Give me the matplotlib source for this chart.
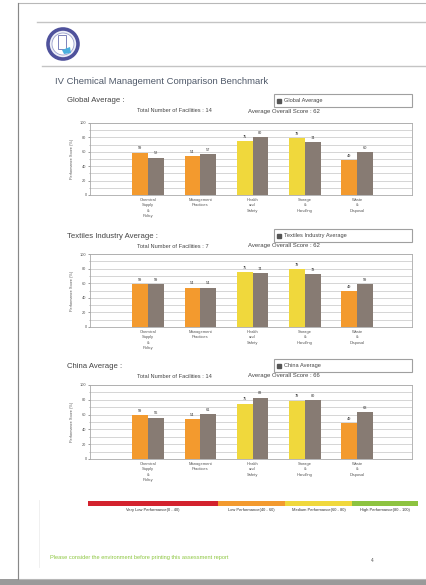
import numpy as np
import matplotlib.pyplot as plt
from matplotlib.patches import Rectangle, Circle, Polygon

plt.rcParams['font.family'] = ['Liberation Sans', 'DejaVu Sans']

# data
categories = ["Chemical\nSupply\n&\nPolicy", "Management\nPractices", "Health\nand\nSafety",
              "Storage\n&\nHandling", "Waste\n&\nDisposal"]
facility_score = [59, 54, 75, 79, 49]
global_avg = [52, 57, 80, 74, 60]
textile_avg = [59, 54, 74, 73, 59]
china_avg = [56, 61, 83, 80, 63]

chart_titles = ["Global Average :", "Textiles Industry Average :", "China Average :"]
legend_names = ["Global Average", "Textiles Industry Average", "China Average"]
n_facilities = [14, 7, 14]
overall_scores = [62, 62, 66]

band_names = ["Very Low Performance(0 - 40)", "Low Performance(40 - 60)",
              "Medium Performance(60 - 80)", "High Performance(80 - 100)"]
band_limits = [0, 40, 60, 80, 100]
band_colors = ["#d3222e", "#f39a2e", "#f0d83c", "#8dc340"]
gray_bar = "#877b73"

W, H = 427, 585
fig = plt.figure(figsize=(W / 100, H / 100), dpi=100)

bg = fig.add_axes([0, 0, 1, 1])
bg.set_xlim(0, W)
bg.set_ylim(H, 0)
bg.axis("off")

# page frame
bg.add_patch(Rectangle((0, 579), W, 6, color="#9a9a9a", lw=0))
bg.add_patch(Rectangle((18, 3), W, 576, facecolor="white", edgecolor="#b8b8b8", lw=0.8))
bg.plot([18, 18], [3, 579], color="#888888", lw=0.8)
bg.plot([37, W], [22, 22], color="#c4c4c4", lw=1.0)
bg.plot([42, W], [66, 66], color="#c4c4c4", lw=1.0)
bg.plot([39, 39], [500, 567], color="#eeeeee", lw=0.6)

# logo
bg.add_patch(Circle((63, 44), 15, facecolor="#eef0f8", edgecolor="#4f529c", lw=2.6))
bg.add_patch(Circle((63, 44), 11, facecolor="white", edgecolor="#9aa0cc", lw=0.6))
bg.add_patch(Rectangle((58, 35), 8, 14, facecolor="none", edgecolor="#7d83bb", lw=0.7))
bg.add_patch(Polygon([(62, 50), (70, 47), (71, 53), (64, 54)], color="#4ab0de", lw=0))

bg.text(55, 82, "IV Chemical Management Comparison Benchmark", fontsize=6.8,
        color="#505a6a", va="center")

# charts: (plot top px, plot bottom px, section title y px)
layout = [(123, 195, 101), (254, 327, 236), (385, 459, 366)]
averages = [global_avg, textile_avg, china_avg]

x = np.arange(len(categories))
bw = 0.3
plot_l, plot_r = 90, 412


def band_color(v):
    for i in range(len(band_colors)):
        if v < band_limits[i + 1]:
            return band_colors[i]
    return band_colors[-1]


for k in range(3):
    top, bottom, ty = layout[k]
    bg.text(67, ty, chart_titles[k], fontsize=5.6, color="#444444", va="center")
    bg.add_patch(Rectangle((274, ty - 7), 138, 13, facecolor="white", edgecolor="#a0a0a0", lw=0.8))
    bg.plot([279.5], [ty - 0.5], marker="s", ms=2.6, color="#555555")
    bg.text(284, ty - 0.5, legend_names[k], fontsize=4.1, color="#444444", va="center")
    bg.text(137, ty + 10, "Total Number of Facilities : %d" % n_facilities[k],
            fontsize=4.1, color="#444444", va="center")
    bg.text(248, ty + 10, "Average Overall Score : %d" % overall_scores[k],
            fontsize=4.3, color="#444444", va="center")

    ax = fig.add_axes([plot_l / W, 1 - bottom / H, (plot_r - plot_l) / W, (bottom - top) / H])
    cols = [band_color(v) for v in facility_score]
    ax.bar(x - bw / 2, facility_score, bw, color=cols, zorder=3)
    ax.bar(x + bw / 2, averages[k], bw, color=gray_bar, zorder=3)
    for i in range(len(categories)):
        ax.text(x[i] - bw / 2, facility_score[i] + 3, str(facility_score[i]),
                ha="center", va="bottom", fontsize=2.8, color="#333333")
        ax.text(x[i] + bw / 2, averages[k][i] + 3, str(averages[k][i]),
                ha="center", va="bottom", fontsize=2.8, color="#333333")
    ax.set_xlim(-1.11, 5.05)
    ax.set_ylim(0, 100)
    ax.set_yticks(np.arange(0, 101, 20))
    ax.set_yticks(np.arange(0, 101, 10), minor=True)
    ax.grid(axis="y", which="both", color="#cfcfcf", lw=0.6, zorder=0)
    ax.tick_params(axis="y", labelsize=2.8, length=1.5, width=0.4, colors="#555555", pad=1)
    ax.tick_params(axis="y", which="minor", length=1, width=0.4, colors="#888888")
    ax.set_xticks(x)
    ax.set_xticklabels(categories, fontsize=2.9, color="#555555", linespacing=1.5)
    ax.tick_params(axis="x", length=0, pad=2)
    ax.set_ylabel("Performance Score (%)", fontsize=2.8, color="#555555", labelpad=4)
    for s in ax.spines.values():
        s.set_color("#aaaaaa")
        s.set_linewidth(0.6)

# performance band strip
xs = [88, 218, 285, 352, 418]
for i in range(4):
    bg.add_patch(Rectangle((xs[i], 501), xs[i + 1] - xs[i], 4.5, color=band_colors[i], lw=0))
    bg.text((xs[i] + xs[i + 1]) / 2, 509.5, band_names[i], fontsize=2.9,
            color="#333333", ha="center", va="center")

bg.text(50, 558, "Please consider the environment before printing this assessment report",
        fontsize=4.1, color="#8cc63f", va="center")
bg.text(372, 560, "4", fontsize=3.5, color="#555555", ha="center", va="center")

fig.savefig("out.png", dpi=100)
